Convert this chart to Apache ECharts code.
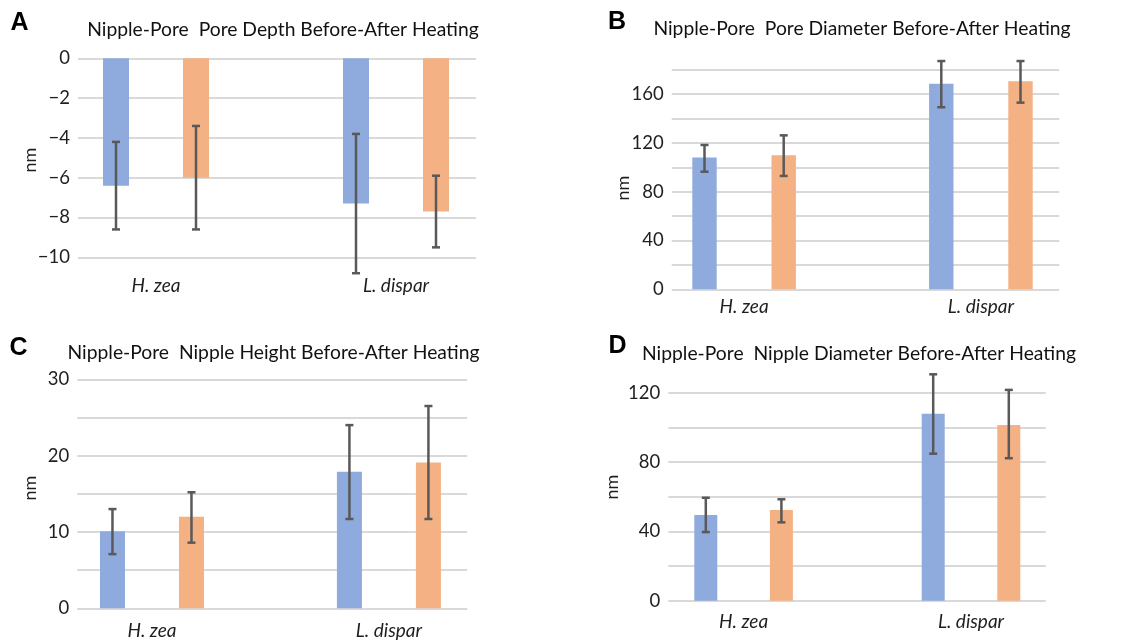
<!DOCTYPE html>
<html>
<head>
<meta charset="utf-8">
<script src="https://cdn.jsdelivr.net/npm/echarts@6/dist/echarts.min.js"></script>
<style>
html,body{margin:0;padding:0;background:#fff;}
#chart{width:1124px;height:641px;}
</style>
</head>
<body>
<div id="chart"></div>
<script>
// ---------- DATA ----------
const categories = ['H. zea', 'L. dispar'];
const seriesNames = ['Before heating', 'After heating'];

// A: pore depth (nm)
const poreDepthBefore = [-6.4, -7.3];
const poreDepthBeforeLow = [-8.6, -10.8];
const poreDepthBeforeHigh = [-4.2, -3.8];
const poreDepthAfter = [-6.0, -7.7];
const poreDepthAfterLow = [-8.6, -9.5];
const poreDepthAfterHigh = [-3.4, -5.9];
const poreDepthTickLabels = [-10, -8, -6, -4, -2, 0];

// B: pore diameter (nm)
const poreDiamBefore = [108, 168.5];
const poreDiamBeforeLow = [96.4, 149.2];
const poreDiamBeforeHigh = [118.3, 187.1];
const poreDiamAfter = [109.8, 170.5];
const poreDiamAfterLow = [92.9, 153];
const poreDiamAfterHigh = [126.2, 187.1];
const poreDiamTickLabels = [0, 40, 80, 120, 160];

// C: nipple height (nm)
const nippleHeightBefore = [10.1, 17.9];
const nippleHeightBeforeLow = [7.1, 11.7];
const nippleHeightBeforeHigh = [13.0, 24.0];
const nippleHeightAfter = [12.0, 19.1];
const nippleHeightAfterLow = [8.6, 11.7];
const nippleHeightAfterHigh = [15.2, 26.5];
const nippleHeightTickLabels = [0, 10, 20, 30];

// D: nipple diameter (nm)
const nippleDiamBefore = [49.4, 107.9];
const nippleDiamBeforeLow = [39.6, 84.8];
const nippleDiamBeforeHigh = [59.4, 130.6];
const nippleDiamAfter = [52.3, 101.4];
const nippleDiamAfterLow = [45.2, 82.2];
const nippleDiamAfterHigh = [58.5, 121.6];
const nippleDiamTickLabels = [0, 40, 80, 120];

const panelLetters = ['A', 'B', 'C', 'D'];
const panelTitles = [
  'Nipple-Pore  Pore Depth Before-After Heating',
  'Nipple-Pore  Pore Diameter Before-After Heating',
  'Nipple-Pore  Nipple Height Before-After Heating',
  'Nipple-Pore  Nipple Diameter Before-After Heating'
];
const yAxisName = 'nm';

// ---------- LAYOUT / STYLE ----------
const FONT = 'Lato, "Open Sans", sans-serif';
const BLUE = '#8faadc';
const ORANGE = '#f4b183';
const ERR = '#595959';
const GRIDC = '#d9d9d9';

const panels = [
  { before: poreDepthBefore, bLow: poreDepthBeforeLow, bHigh: poreDepthBeforeHigh,
    after: poreDepthAfter, aLow: poreDepthAfterLow, aHigh: poreDepthAfterHigh,
    ticks: poreDepthTickLabels,
    min: -12, max: 0, interval: 2, showMin: false, showMax: true,
    lineLeft: 78, lineWidth: 398, barLeft: 36, barWidthArea: 480, top: 58.3, height: 238.8,
    barW: 26, offset: 40, catMargin: -21,
    letter: [19.5, 23], title: [283, 30], nm: [30, 160] },
  { before: poreDiamBefore, bLow: poreDiamBeforeLow, bHigh: poreDiamBeforeHigh,
    after: poreDiamAfter, aLow: poreDiamAfterLow, aHigh: poreDiamAfterHigh,
    ticks: poreDiamTickLabels,
    min: 0, max: 200, interval: 20, showMin: true, showMax: false,
    lineLeft: 671.7, lineWidth: 387.6, barLeft: 625.7, barWidthArea: 473.6, top: 45.3, height: 244,
    barW: 24.4, offset: 39.6, catMargin: 8,
    letter: [617, 22], title: [862, 28.5], nm: [623, 188] },
  { before: nippleHeightBefore, bLow: nippleHeightBeforeLow, bHigh: nippleHeightBeforeHigh,
    after: nippleHeightAfter, aLow: nippleHeightAfterLow, aHigh: nippleHeightAfterHigh,
    ticks: nippleHeightTickLabels,
    min: 0, max: 30, interval: 5, showMin: true, showMax: true,
    lineLeft: 77.3, lineWidth: 390, barLeft: 33.5, barWidthArea: 473.9, top: 379.3, height: 229,
    barW: 25, offset: 39.5, catMargin: 13,
    letter: [18.5, 348], title: [273.5, 352.5], nm: [30, 488] },
  { before: nippleDiamBefore, bLow: nippleDiamBeforeLow, bHigh: nippleDiamBeforeHigh,
    after: nippleDiamAfter, aLow: nippleDiamAfterLow, aHigh: nippleDiamAfterHigh,
    ticks: nippleDiamTickLabels,
    min: 0, max: 140, interval: 20, showMin: true, showMax: false,
    lineLeft: 668.3, lineWidth: 377.4, barLeft: 629.9, barWidthArea: 454.8, top: 358, height: 242.7,
    barW: 23, offset: 37.8, catMargin: 12,
    letter: [617.5, 346], title: [859, 354], nm: [612, 487] }
];

const grid = [], xAxis = [], yAxis = [], series = [], graphic = [];

panels.forEach((p, k) => {
  const gLine = grid.length;
  grid.push({ left: p.lineLeft, width: p.lineWidth, top: p.top, height: p.height });
  const gBar = grid.length;
  grid.push({ left: p.barLeft, width: p.barWidthArea, top: p.top, height: p.height });

  // axes for gridline grid
  const xLine = xAxis.length;
  xAxis.push({ gridIndex: gLine, type: 'category', data: categories, show: false });
  const yLine = yAxis.length;
  yAxis.push({
    gridIndex: gLine, type: 'value', min: p.min, max: p.max, interval: p.interval,
    axisLine: { show: false }, axisTick: { show: false },
    axisLabel: {
      margin: 8, fontFamily: FONT, fontSize: 18.5, color: '#1f1f1f',
      formatter: v => p.ticks.indexOf(Math.round(v * 1000) / 1000) >= 0 ? String(v).replace('-', '\u2212') : ''
    },
    splitLine: { show: true, showMinLine: p.showMin, showMaxLine: p.showMax,
      lineStyle: { color: GRIDC, width: 2 } }
  });

  // axes for bar grid
  const xBar = xAxis.length;
  xAxis.push({
    gridIndex: gBar, type: 'category', data: categories,
    axisLine: { show: false }, axisTick: { show: false },
    axisLabel: { margin: p.catMargin, fontFamily: FONT, fontSize: 19, fontStyle: 'italic', color: '#1f1f1f' }
  });
  const yBar = yAxis.length;
  yAxis.push({ gridIndex: gBar, type: 'value', min: p.min, max: p.max, interval: p.interval, show: false,
    splitLine: { show: false } });

  // placeholder series on line grid so the axes are rendered
  series.push({ type: 'line', xAxisIndex: xLine, yAxisIndex: yLine, data: [], silent: true });

  const gapPct = ((2 * p.offset - p.barW) / p.barW * 100).toFixed(1) + '%';
  const vals = [[p.before, p.bLow, p.bHigh, BLUE, -1], [p.after, p.aLow, p.aHigh, ORANGE, 1]];
  vals.forEach(([v, lo, hi, color, sign], si) => {
    series.push({
      name: seriesNames[si], type: 'bar', xAxisIndex: xBar, yAxisIndex: yBar,
      data: v, barWidth: p.barW, barGap: gapPct,
      itemStyle: { color: color }, silent: true, z: 2
    });
  });
  vals.forEach(([v, lo, hi, color, sign]) => {
    series.push({
      type: 'custom', xAxisIndex: xBar, yAxisIndex: yBar, z: 5, silent: true,
      data: categories.map((c, i) => [i, lo[i], hi[i]]),
      renderItem: (params, api) => {
        const a = api.coord([api.value(0), api.value(1)]);
        const b = api.coord([api.value(0), api.value(2)]);
        const cx = a[0] + sign * p.offset;
        const half = 4;
        const st = { stroke: ERR, lineWidth: 2.5 };
        return { type: 'group', children: [
          { type: 'line', shape: { x1: cx, y1: a[1], x2: cx, y2: b[1] }, style: st },
          { type: 'line', shape: { x1: cx - half, y1: a[1], x2: cx + half, y2: a[1] }, style: st },
          { type: 'line', shape: { x1: cx - half, y1: b[1], x2: cx + half, y2: b[1] }, style: st }
        ]};
      }
    });
  });

  graphic.push({ type: 'text', x: p.letter[0], y: p.letter[1],
    style: { text: panelLetters[k], font: 'bold 25px "Liberation Sans", Arial, sans-serif', fill: '#000', align: 'center', verticalAlign: 'middle' } });
  graphic.push({ type: 'text', x: p.title[0], y: p.title[1],
    style: { text: panelTitles[k], font: '19.3px ' + FONT, fill: '#111', align: 'center', verticalAlign: 'middle' } });
  graphic.push({ type: 'text', x: p.nm[0], y: p.nm[1], rotation: Math.PI / 2,
    style: { text: yAxisName, font: '18px ' + FONT, fill: '#1f1f1f', align: 'center', verticalAlign: 'middle' } });
});

const chart = echarts.init(document.getElementById('chart'), null, { renderer: 'canvas' });
chart.setOption({
  animation: false,
  backgroundColor: '#fff',
  grid, xAxis, yAxis, series, graphic
});
</script>
</body>
</html>
